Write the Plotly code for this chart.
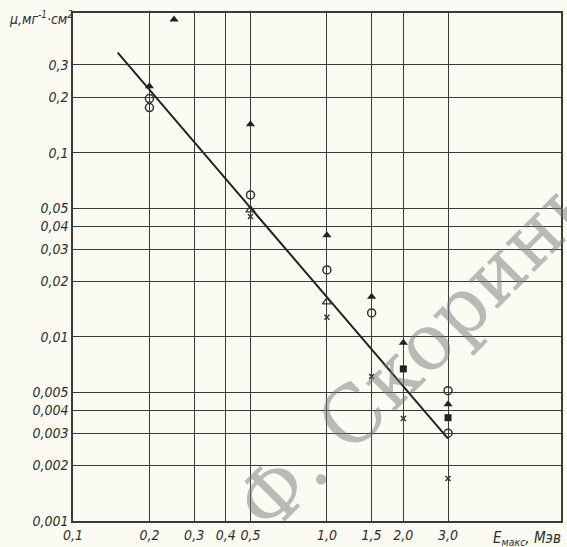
import plotly.graph_objects as go

# Data
tri_filled_x = [0.2, 0.25, 0.5, 1.0, 1.5, 2.0, 3.0]
tri_filled_y = [0.23, 0.53, 0.143, 0.0356, 0.0165, 0.0093, 0.0043]
circ_open_x = [0.2, 0.2, 0.5, 1.0, 1.5, 3.0, 3.0]
circ_open_y = [0.197, 0.176, 0.059, 0.0231, 0.0135, 0.0051, 0.0030]
tri_open_x = [0.5, 1.0]
tri_open_y = [0.049, 0.0155]
cross_x = [0.5, 1.0, 1.5, 2.0, 3.0]
cross_y = [0.045, 0.0128, 0.0061, 0.0036, 0.0017]
sq_x = [2.0, 3.0]
sq_y = [0.0067, 0.00364]
fit_x = [0.15, 3.0]
fit_y = [0.35, 0.0028]

x_ticks = [0.1, 0.2, 0.3, 0.4, 0.5, 1.0, 1.5, 2.0, 3.0]
x_tick_text = ["0,1", "0,2", "0,3", "0,4", "0,5", "1,0", "1,5", "2,0", "3,0"]
y_ticks = [0.001, 0.002, 0.003, 0.004, 0.005, 0.01, 0.02, 0.03, 0.04, 0.05, 0.1, 0.2, 0.3]
y_tick_text = ["0,001", "0,002", "0,003", "0,004", "0,005", "0,01", "0,02", "0,03",
               "0,04", "0,05", "0,1", "0,2", "0,3"]

ink = "#2e2e2e"
grid = "#3a3a3a"
fam = "Liberation Sans Narrow, DejaVu Sans Condensed, DejaVu Sans, sans-serif"
xfnt = dict(family=fam, size=14, color=ink, style="italic")
yfnt = dict(family=fam, size=14, color=ink, style="italic")

fig = go.Figure()
fig.add_trace(go.Scatter(x=fit_x, y=fit_y, mode="lines", line=dict(color="#222", width=2), showlegend=False))
fig.add_trace(go.Scatter(x=tri_filled_x, y=tri_filled_y, mode="markers",
                         marker=dict(symbol="triangle-up", size=8, color="#222"), showlegend=False))
fig.add_trace(go.Scatter(x=circ_open_x, y=circ_open_y, mode="markers",
                         marker=dict(symbol="circle-open", size=8, color="#333", line=dict(width=1.5)), showlegend=False))
fig.add_trace(go.Scatter(x=tri_open_x, y=tri_open_y, mode="markers",
                         marker=dict(symbol="triangle-up-open", size=8, color="#333", line=dict(width=1.3)), showlegend=False))
fig.add_trace(go.Scatter(x=cross_x, y=cross_y, mode="markers",
                         marker=dict(symbol="x-thin", size=5, color="#333", line=dict(width=1.4, color="#333")), showlegend=False))
fig.add_trace(go.Scatter(x=sq_x, y=sq_y, mode="markers",
                         marker=dict(symbol="square", size=7, color="#222"), showlegend=False))

fig.update_xaxes(type="log", range=[-1, 0.922], tickvals=x_ticks, ticktext=x_tick_text,
                 tickangle=0, showgrid=True, gridcolor=grid, gridwidth=1, showline=True, linecolor=grid,
                 linewidth=1.5, mirror=True, ticks="", tickfont=xfnt, zeroline=False)
fig.update_yaxes(type="log", range=[-3, -0.241], tickvals=y_ticks, ticktext=y_tick_text,
                 showgrid=True, gridcolor=grid, gridwidth=1, showline=True, linecolor=grid,
                 linewidth=1.5, mirror=True, ticks="", tickfont=yfnt, zeroline=False)

fig.add_annotation(text="μ,мг<sup>-1</sup>·см<sup>2</sup>", xref="paper", yref="paper",
                   x=-0.135, y=0.99, xanchor="left", yanchor="middle", showarrow=False,
                   font=dict(family=fam, size=14, color=ink, style="italic"))
fig.add_annotation(text="E<sub>макс</sub>, Мэв", xref="paper", yref="paper",
                   x=1.005, y=-0.012, xanchor="right", yanchor="top", showarrow=False,
                   font=dict(family=fam, size=15, color=ink, style="italic"))
fig.add_annotation(text="Ф. Скорины", xref="paper", yref="paper",
                   x=0.715, y=0.345, xanchor="center", yanchor="middle", showarrow=False, textangle=-45,
                   font=dict(family="DejaVu Serif, serif", size=78, color="rgba(120,120,120,0.5)"))

fig.update_layout(width=567, height=547, margin=dict(l=73, r=4, t=13, b=25),
                  paper_bgcolor="#fbfbf3", plot_bgcolor="#fbfbf3")
fig.write_html("out.html", config={"displayModeBar": False},
               post_script="document.body.style.margin='0';")
